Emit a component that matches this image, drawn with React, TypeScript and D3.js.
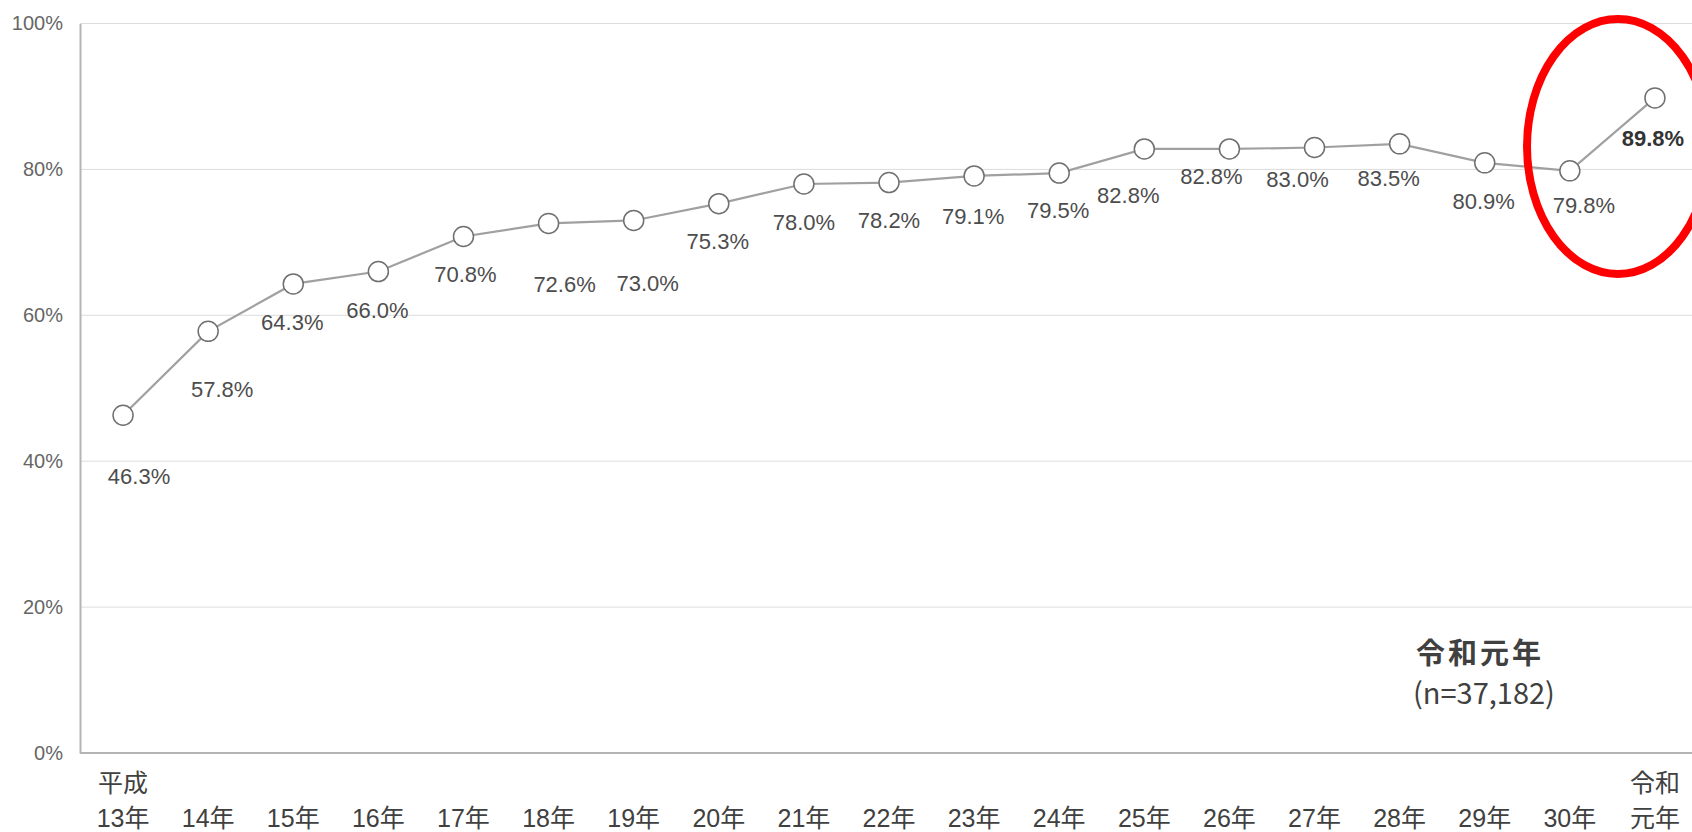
import React, { useEffect, useRef } from 'react'
import * as d3 from 'd3'

const categories = ['平成\n13年', '14年', '15年', '16年', '17年', '18年', '19年', '20年', '21年', '22年',
  '23年', '24年', '25年', '26年', '27年', '28年', '29年', '30年', '令和\n元年']
const rates = [46.3, 57.8, 64.3, 66.0, 70.8, 72.6, 73.0, 75.3, 78.0, 78.2, 79.1, 79.5, 82.8, 82.8, 83.0, 83.5, 80.9, 79.8, 89.8]
const yTicks = [0, 20, 40, 60, 80, 100]
const noteTitle = '令和元年'
const noteSub = '(n=37,182)'

// label placement relative to each marker (dx, dy)
const labelNudge = [[16, 61], [14, 58], [-1, 38], [-1, 39], [2, 38], [16, 61], [14, 63], [-1, 38], [0, 38], [0, 38],
  [-1, 40], [-1, 37], [-16, 46], [-18, 27], [-17, 32], [-11, 34], [-1, 38], [14, 34], [-2, 40]]

const W = 1692
const H = 832
const FONT = '"Liberation Sans", Arial, "Noto Sans CJK JP", sans-serif'

export default function App() {
  const ref = useRef<SVGSVGElement>(null)

  useEffect(() => {
    const svg = d3.select(ref.current)
    svg.selectAll('*').remove()

    const x = d3.scalePoint<string>().domain(categories).range([80.5, 1697.5]).padding(0.5)
    const y = d3.scaleLinear().domain([0, 100]).range([753, 23.5])

    // grid
    svg.append('g')
      .selectAll('line')
      .data(yTicks.filter(t => t > 0))
      .enter()
      .append('line')
      .attr('x1', 80).attr('x2', W)
      .attr('y1', d => y(d)).attr('y2', d => y(d))
      .attr('stroke', '#dcdcdc').attr('stroke-width', 1)

    // y axis
    const yAxis = svg.append('g')
      .attr('transform', 'translate(80,0)')
      .call(d3.axisLeft(y).tickValues(yTicks).tickSize(0).tickPadding(17).tickFormat(d => `${d}%`))
    yAxis.select('.domain').attr('stroke', '#b4b4b4').attr('stroke-width', 2)
    yAxis.selectAll('text')
      .attr('font-family', FONT).attr('font-size', 20).attr('fill', '#666')

    // x axis line
    svg.append('line')
      .attr('x1', 80).attr('x2', W).attr('y1', y(0)).attr('y2', y(0))
      .attr('stroke', '#b4b4b4').attr('stroke-width', 2)

    // x labels
    const xl = svg.append('g')
      .selectAll('text')
      .data(categories)
      .enter()
      .append('text')
      .attr('x', d => x(d)!)
      .attr('text-anchor', 'middle')
      .attr('font-family', FONT).attr('font-size', 25).attr('fill', '#404040')
    xl.each(function (d) {
      const lines = d.split('\n')
      const t = d3.select(this)
      lines.forEach((ln, i) => {
        t.append('tspan')
          .attr('x', x(d)!)
          .attr('y', 818 - (lines.length - 1 - i) * 35)
          .attr('dy', '0.35em')
          .text(ln)
      })
    })

    // line
    const line = d3.line<number>()
      .x((_, i) => x(categories[i])!)
      .y(d => y(d))
    svg.append('path')
      .datum(rates)
      .attr('d', line)
      .attr('fill', 'none')
      .attr('stroke', '#a0a0a0')
      .attr('stroke-width', 2.2)

    // markers
    svg.append('g')
      .selectAll('circle')
      .data(rates)
      .enter()
      .append('circle')
      .attr('cx', (_, i) => x(categories[i])!)
      .attr('cy', d => y(d))
      .attr('r', 10)
      .attr('fill', '#fff')
      .attr('stroke', '#707070')
      .attr('stroke-width', 1.5)

    // value labels
    svg.append('g')
      .selectAll('text')
      .data(rates)
      .enter()
      .append('text')
      .attr('x', (_, i) => x(categories[i])! + labelNudge[i][0])
      .attr('y', (d, i) => y(d) + labelNudge[i][1])
      .attr('dy', '0.35em')
      .attr('text-anchor', 'middle')
      .attr('font-family', FONT)
      .attr('font-size', 22)
      .attr('font-weight', (_, i) => (i === rates.length - 1 ? 'bold' : 'normal'))
      .attr('fill', (_, i) => (i === rates.length - 1 ? '#333' : '#4d4d4d'))
      .text(d => `${d.toFixed(1)}%`)

    // note
    svg.append('text')
      .attr('x', 1416).attr('y', 654).attr('dy', '0.35em')
      .attr('font-family', '"Noto Sans CJK JP", sans-serif')
      .attr('font-size', 29).attr('letter-spacing', 3).attr('font-weight', 'bold').attr('fill', '#404040')
      .text(noteTitle)
    svg.append('text')
      .attr('x', 1413).attr('y', 694).attr('dy', '0.35em')
      .attr('font-family', '"Noto Sans CJK JP", sans-serif')
      .attr('font-size', 29).attr('fill', '#404040')
      .text(noteSub)

    // red highlight ellipse
    svg.append('ellipse')
      .attr('cx', 1618).attr('cy', 146.5)
      .attr('rx', 91).attr('ry', 127.5)
      .attr('fill', 'none')
      .attr('stroke', '#ff0000')
      .attr('stroke-width', 8)
  }, [])

  return (
    <svg ref={ref} width={W} height={H}
      style={{ position: 'absolute', left: 0, top: 0, background: '#fff', display: 'block' }} />
  )
}
